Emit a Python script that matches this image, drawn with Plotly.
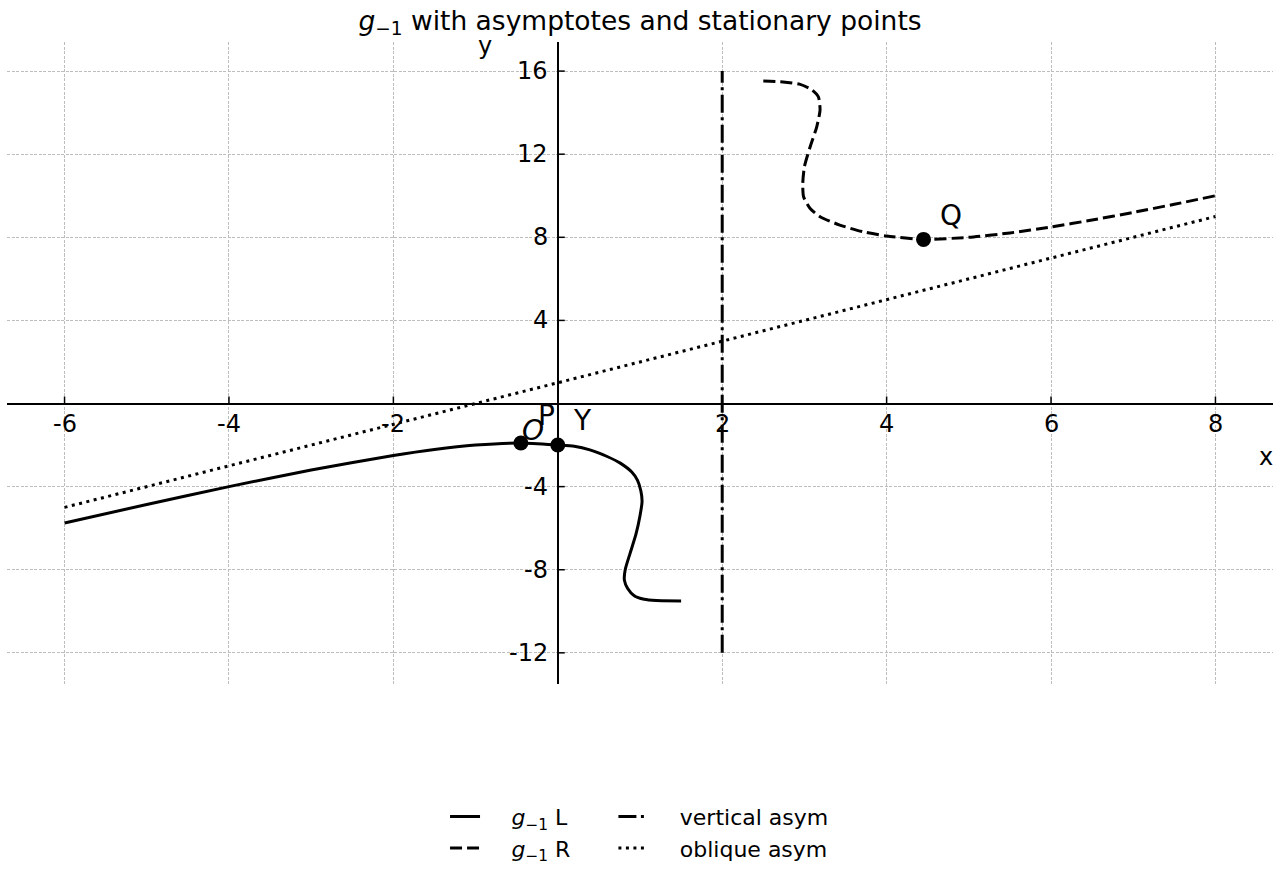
import plotly.graph_objects as go

# ---- data ----
left_x = [-6.0, -5.0, -4.0, -3.0, -2.0, -1.5, -1.0, -0.45, 0.0, 0.2, 0.39, 0.6, 0.76, 0.9,
          0.97, 1.01, 1.025, 1.0, 0.95, 0.88, 0.82, 0.81, 0.85, 0.93, 1.05, 1.2, 1.5]
left_y = [-5.75, -4.86, -4.0, -3.2, -2.5, -2.21, -2.0, -1.9, -2.0, -2.06, -2.23, -2.55, -2.87, -3.3,
          -3.7, -4.2, -4.7, -5.4, -6.3, -7.2, -8.0, -8.5, -8.9, -9.25, -9.42, -9.48, -9.5]

right_x = [2.5, 2.74, 2.94, 3.09, 3.17, 3.19, 3.15, 3.07, 3.0, 2.98, 2.99, 3.07, 3.19, 3.43,
           3.71, 4.0, 4.45, 5.0, 5.5, 6.0, 6.5, 7.0, 7.5, 8.0]
right_y = [15.52, 15.48, 15.37, 15.1, 14.76, 14.12, 13.32, 12.36, 11.4, 10.6, 9.95, 9.39, 8.99, 8.59,
           8.27, 8.06, 7.9, 8.0, 8.21, 8.5, 8.83, 9.2, 9.59, 10.0]

vasym_x = [2, 2]
vasym_y = [-12, 16]
oasym_x = [-6, 8]
oasym_y = [-5, 9]

pts_x = [-0.449, 0.0, 4.449]
pts_y = [-1.9, -2.0, 7.9]

labels = ["<i>O</i>", "P", "Y", "Q"]
labels_x = [-0.30, -0.14, 0.30, 4.78]
labels_y = [-1.28, -0.6, -0.84, 9.07]

xticks = [-6, -4, -2, 2, 4, 6, 8]
xtick_text = ["-6", "-4", "-2", "2", "4", "6", "8"]
yticks = [-12, -8, -4, 4, 8, 12, 16]
ytick_text = ["-12", "-8", "-4", "4", "8", "12", "16"]

FONT = "DejaVu Sans"
SP = "\u2002\u2002\u2009"
fig = go.Figure()

fig.add_trace(go.Scatter(x=left_x, y=left_y, mode="lines", line=dict(color="black", width=3, shape="spline", smoothing=0.6),
                         name=SP + "<i>g</i><sub>−1</sub> L", legend="legend"))
fig.add_trace(go.Scatter(x=right_x, y=right_y, mode="lines",
                         line=dict(color="black", width=3, dash="12px,5px", shape="spline", smoothing=0.6),
                         name=SP + "<i>g</i><sub>−1</sub> R", legend="legend"))
fig.add_trace(go.Scatter(x=vasym_x, y=vasym_y, mode="lines",
                         line=dict(color="black", width=3, dash="18px,4.5px,3px,4.5px"),
                         name=SP + "vertical asym", legend="legend2"))
fig.add_trace(go.Scatter(x=oasym_x, y=oasym_y, mode="lines",
                         line=dict(color="black", width=3, dash="3px,4.5px"),
                         name=SP + "oblique asym", legend="legend2"))
fig.add_trace(go.Scatter(x=pts_x, y=pts_y, mode="markers", marker=dict(color="black", size=15),
                         showlegend=False))

annotations = []
for t, x, y in zip(labels, labels_x, labels_y):
    annotations.append(dict(x=x, y=y, xref="x", yref="y", text=t, showarrow=False,
                            font=dict(family=FONT, size=28, color="black")))
for v, t in zip(xticks, xtick_text):
    annotations.append(dict(x=v, y=0, xref="x", yref="y", text=t, showarrow=False, yshift=-20,
                            font=dict(family=FONT, size=24, color="black")))
for v, t in zip(yticks, ytick_text):
    annotations.append(dict(x=0, y=v, xref="x", yref="y", text=t, showarrow=False, xanchor="right", xshift=-8,
                            font=dict(family=FONT, size=24, color="black")))
annotations.append(dict(x=8.62, y=-2.57, xref="x", yref="y", text="x", showarrow=False,
                        font=dict(family=FONT, size=24, color="black")))
annotations.append(dict(x=-0.89, y=1.019, xref="x", yref="paper", text="y", showarrow=False,
                        font=dict(family=FONT, size=24, color="black")))

shapes = []
for v in xticks:
    shapes.append(dict(type="line", xref="x", yref="y", x0=v, x1=v, ysizemode="pixel", yanchor=0,
                       y0=0, y1=7, line=dict(color="black", width=1.5)))
for v in yticks:
    shapes.append(dict(type="line", xref="x", yref="y", y0=v, y1=v, xsizemode="pixel", xanchor=0,
                       x0=0, x1=7, line=dict(color="black", width=1.5)))

fig.update_layout(
    width=1280, height=880,
    margin=dict(l=7, r=7, t=42, b=196, autoexpand=False),
    plot_bgcolor="white", paper_bgcolor="white",
    font=dict(family=FONT, color="black"),
    title=dict(text="<i>g</i><sub>−1</sub> with asymptotes and stationary points",
               x=0.5, xanchor="center", y=0.977, yanchor="middle",
               font=dict(family=FONT, size=26.5, color="black")),
    xaxis=dict(range=[-6.7, 8.7], tickvals=xticks, showticklabels=False, ticks="",
               showgrid=True, gridcolor="#bdbdbd", griddash="3px,1.5px", gridwidth=1,
               zeroline=True, zerolinecolor="black", zerolinewidth=2, showline=False),
    yaxis=dict(range=[-13.5, 17.4], tickvals=yticks, showticklabels=False, ticks="",
               showgrid=True, gridcolor="#bdbdbd", griddash="3px,1.5px", gridwidth=1,
               zeroline=True, zerolinecolor="black", zerolinewidth=2, showline=False),
    legend=dict(x=0.346, y=-0.174, xanchor="left", yanchor="top",
                orientation="v", font=dict(family=FONT, size=22, color="black"),
                bgcolor="rgba(0,0,0,0)", tracegroupgap=0),
    legend2=dict(x=0.479, y=-0.174, xanchor="left", yanchor="top",
                 orientation="v", font=dict(family=FONT, size=22, color="black"),
                 bgcolor="rgba(0,0,0,0)", tracegroupgap=0),
    annotations=annotations,
    shapes=shapes,
)

fig.write_html("out.html")
